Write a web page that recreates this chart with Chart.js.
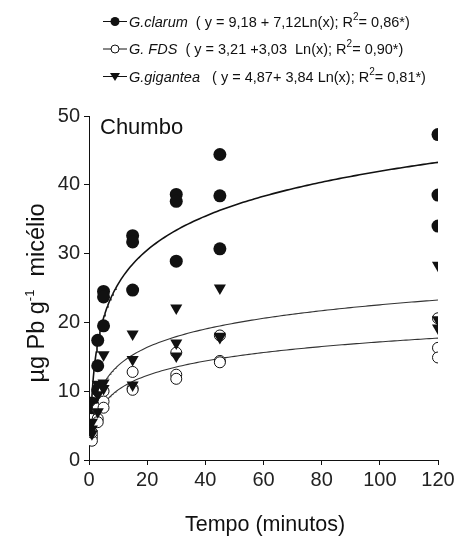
<!DOCTYPE html>
<html>
<head>
<meta charset="utf-8">
<script src="https://cdn.jsdelivr.net/npm/chart.js@4/dist/chart.umd.min.js"></script>
<style>
  html, body { margin: 0; padding: 0; background: #fff; }
  #wrap { width: 458px; height: 537px; }
</style>
</head>
<body>
<div id="wrap"><canvas id="c" width="458" height="537"></canvas></div>
<script>
// Sampling times (minutes)
const times = [1, 3, 5, 15, 30, 45, 120];

// Pb uptake, three replicates per sampling time (µg Pb g-1 mycelium)
const clarumValues = [
  [8.3, 7.9, 7.6], [17.4, 13.7, 10.2], [24.5, 23.7, 19.5], [32.6, 31.7, 24.7],
  [38.6, 37.6, 28.9], [44.4, 38.4, 30.7], [47.3, 38.5, 34.0]
];
const fdsValues = [
  [3.4, 2.8, 4.0], [7.5, 6.0, 5.5], [10.0, 8.5, 7.6], [12.8, 10.4, 10.2],
  [15.6, 12.4, 11.8], [18.1, 14.4, 14.2], [20.6, 16.3, 14.9]
];
const giganteaValues = [
  [5.5, 4.5, 3.8], [11.0, 9.5, 7.0], [15.3, 11.2, 10.4], [18.3, 14.6, 10.9],
  [22.1, 17.0, 15.1], [25.0, 18.0, 17.8], [28.3, 20.4, 19.2]
];

// Logarithmic fits y = a + b·ln(x) and their R²
const clarumFit = [9.18, 7.12];
const fdsFit = [3.21, 3.03];
const giganteaFit = [4.87, 3.84];
const r2Values = [0.86, 0.90, 0.81];

// Axis ticks
const xTicks = [0, 20, 40, 60, 80, 100, 120];
const yTicks = [0, 10, 20, 30, 40, 50];

const FONT = '"Liberation Sans", Arial, Helvetica, sans-serif';

function toPoints(values) {
  const pts = [];
  times.forEach((t, i) => values[i].forEach(v => pts.push({ x: t, y: v })));
  return pts;
}
function fitCurve(fit) {
  const pts = [];
  for (let x = 1; x <= 120.001; x += (x < 10 ? 0.25 : 1)) {
    pts.push({ x: x, y: fit[0] + fit[1] * Math.log(x) });
  }
  return pts;
}
const fmt = v => v.toFixed(2).replace('.', ',');

const curveStyle = (w, c) => ({
  type: 'line', showLine: true, pointRadius: 0, borderColor: c,
  borderWidth: w, fill: false, tension: 0
});

// Legend, panel label and axis titles drawn on the canvas
const annotations = {
  id: 'annotations',
  afterDraw(chart) {
    const ctx = chart.ctx;
    ctx.save();
    ctx.fillStyle = '#111';
    ctx.strokeStyle = '#111';
    ctx.textBaseline = 'alphabetic';
    ctx.textAlign = 'left';

    function runs(x, y, parts) {
      for (const p of parts) {
        if (p.sup) {
          ctx.font = '10px ' + FONT;
          ctx.fillText(p.t, x, y - 7);
        } else {
          ctx.font = (p.it ? 'italic ' : '') + p.size + 'px ' + FONT;
          ctx.fillText(p.t, x, y);
        }
        x += ctx.measureText(p.t).width;
      }
    }

    // legend rows
    const rows = [
      { y: 21, mk: 'filled', name: 'G.clarum',
        eq: '  ( y = ' + fmt(clarumFit[0]) + ' + ' + fmt(clarumFit[1]) + 'Ln(x); R', r2: '= ' + fmt(r2Values[0]) + '*)' },
      { y: 48.5, mk: 'open', name: 'G. FDS',
        eq: '  ( y = ' + fmt(fdsFit[0]) + ' +' + fmt(fdsFit[1]) + '  Ln(x); R', r2: '= ' + fmt(r2Values[1]) + '*)' },
      { y: 76, mk: 'tri', name: 'G.gigantea',
        eq: '   ( y = ' + fmt(giganteaFit[0]) + '+ ' + fmt(giganteaFit[1]) + ' Ln(x); R', r2: '= ' + fmt(r2Values[2]) + '*)' }
    ];
    for (const r of rows) {
      ctx.lineWidth = 1;
      ctx.beginPath();
      ctx.moveTo(103, r.y + 0.5);
      ctx.lineTo(127, r.y + 0.5);
      ctx.stroke();
      ctx.beginPath();
      if (r.mk === 'filled') {
        ctx.arc(115, r.y + 0.5, 4.5, 0, Math.PI * 2);
        ctx.fill();
      } else if (r.mk === 'open') {
        ctx.arc(115, r.y + 0.5, 4, 0, Math.PI * 2);
        ctx.fillStyle = '#fff';
        ctx.fill();
        ctx.stroke();
        ctx.fillStyle = '#111';
      } else {
        ctx.moveTo(110, r.y - 3);
        ctx.lineTo(120, r.y - 3);
        ctx.lineTo(115, r.y + 5);
        ctx.closePath();
        ctx.fill();
      }
      runs(129, r.y + 5.5, [
        { t: r.name, it: true, size: 14.5 },
        { t: r.eq, size: 14.5 },
        { t: '2', sup: true },
        { t: r.r2, size: 14.5 }
      ]);
    }

    // panel label
    ctx.font = '22px ' + FONT;
    ctx.fillText('Chumbo', 100, 134);

    // x-axis title
    ctx.font = '21.5px ' + FONT;
    ctx.textAlign = 'center';
    ctx.fillText('Tempo (minutos)', 265, 531);

    // y-axis title, rotated
    ctx.translate(44, 293);
    ctx.rotate(-Math.PI / 2);
    const yParts = [
      { t: 'µg Pb g', size: 23.5 },
      { t: '-1', sup: true },
      { t: '  micélio', size: 23.5 }
    ];
    let total = 0;
    for (const p of yParts) {
      ctx.font = (p.sup ? 13 : p.size) + 'px ' + FONT;
      total += ctx.measureText(p.t).width;
    }
    ctx.textAlign = 'left';
    let x = -total / 2;
    for (const p of yParts) {
      if (p.sup) {
        ctx.font = '13px ' + FONT;
        ctx.fillText(p.t, x, -10);
      } else {
        ctx.font = p.size + 'px ' + FONT;
        ctx.fillText(p.t, x, 0);
      }
      x += ctx.measureText(p.t).width;
    }
    ctx.restore();
  }
};

new Chart(document.getElementById('c'), {
  type: 'scatter',
  data: {
    datasets: [
      { label: 'G.gigantea', data: toPoints(giganteaValues), order: 1,
        pointStyle: 'triangle', rotation: 180, pointRadius: 7,
        backgroundColor: '#111', borderColor: '#111', borderWidth: 0 },
      { label: 'G. FDS', data: toPoints(fdsValues), order: 2,
        pointStyle: 'circle', pointRadius: 5.5,
        backgroundColor: '#fff', borderColor: '#111', borderWidth: 1 },
      { label: 'G.clarum', data: toPoints(clarumValues), order: 3,
        pointStyle: 'circle', pointRadius: 6.5,
        backgroundColor: '#111', borderColor: '#111', borderWidth: 0 },
      Object.assign({ label: 'clarum fit', data: fitCurve(clarumFit), order: 4 }, curveStyle(1.6, '#111')),
      Object.assign({ label: 'FDS fit', data: fitCurve(fdsFit), order: 4 }, curveStyle(1.1, '#333')),
      Object.assign({ label: 'gigantea fit', data: fitCurve(giganteaFit), order: 4 }, curveStyle(1.1, '#333'))
    ]
  },
  options: {
    responsive: false,
    animation: false,
    layout: { padding: { top: 116, right: 20, left: 0, bottom: 0 } },
    plugins: { legend: { display: false }, tooltip: { enabled: false } },
    scales: {
      x: {
        type: 'linear', min: 0, max: 120,
        afterFit: s => { s.height = 77; },
        afterBuildTicks: s => { s.ticks = xTicks.map(v => ({ value: v })); },
        border: { display: true, color: '#111', width: 1 },
        grid: { drawOnChartArea: false, drawTicks: true, tickLength: 5, color: '#111' },
        ticks: { color: '#222', font: { family: FONT, size: 20 }, padding: 3, maxRotation: 0 }
      },
      y: {
        type: 'linear', min: 0, max: 50,
        afterFit: s => { s.width = 89; },
        afterBuildTicks: s => { s.ticks = yTicks.map(v => ({ value: v })); },
        border: { display: true, color: '#111', width: 1 },
        grid: { drawOnChartArea: false, drawTicks: true, tickLength: 5, color: '#111' },
        ticks: { color: '#222', font: { family: FONT, size: 20 }, padding: 4 }
      }
    }
  },
  plugins: [annotations]
});
</script>
</body>
</html>
